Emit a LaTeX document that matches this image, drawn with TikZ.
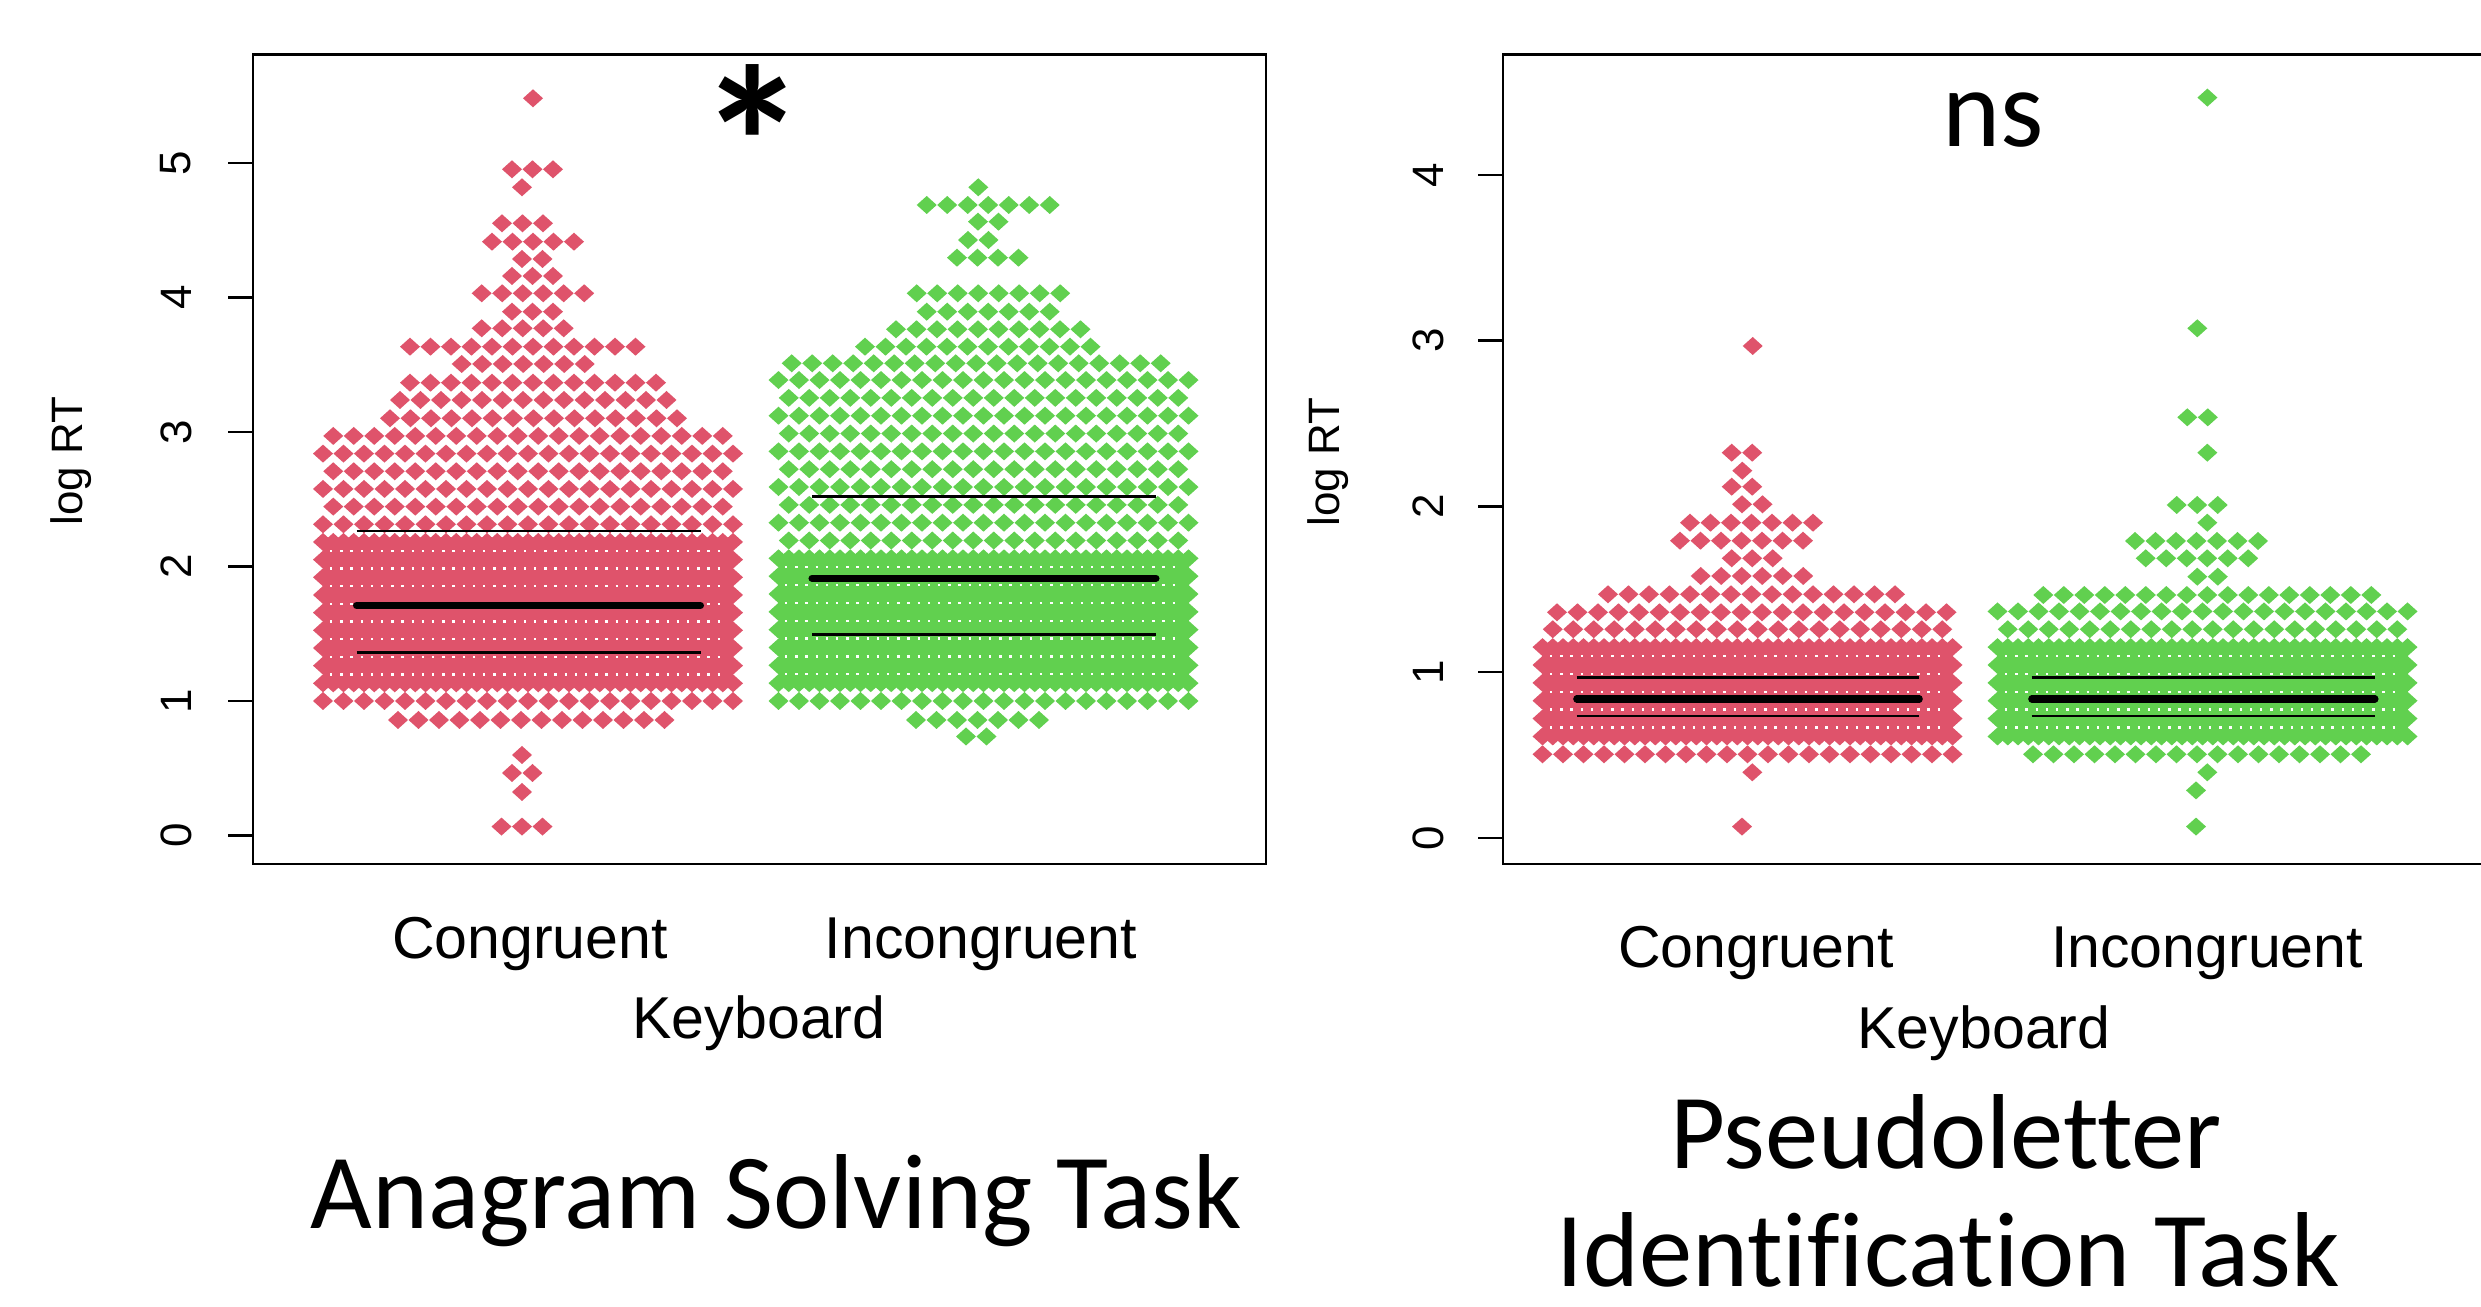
\documentclass[tikz,border=0pt]{standalone}
\usepackage{fontspec}
\setmainfont{Carlito}[Ligatures=NoCommon]
\newfontfamily\rfont{Liberation Sans}
\usepackage{xcolor}
\usepackage{tikz}
\definecolor{rcol}{HTML}{DF536B}
\definecolor{gcol}{HTML}{61D04F}
\newcommand{\plotpt}[2]{\fill (#1,#2) +(-10,0) -- +(0,-9) -- +(10,0) -- +(0,9) -- cycle;}
\newcommand{\ptrow}[3]{\foreach \i in {1,...,#3}{\pgfmathsetmacro\xx{#1+20.5*(\i-1)}\plotpt{\xx}{#2}}}
\newcommand{\solidrow}[2]{\foreach \i in {0,...,40}{\pgfmathsetmacro\xx{#1-205+10.25*\i}\plotpt{\xx}{#2}}}
\newcommand{\hexrow}[3]{\ifodd#3\relax\ptrow{#1-194.75}{#2}{20}\else\ptrow{#1-205}{#2}{21}\fi}

\begin{document}
\begin{tikzpicture}[x=0.01cm, y=-0.01cm,
                    frame/.style = {line width=0.7pt},
                    quart/.style = {line width=0.75pt},
                    med/.style = {line width=2pt, line cap=round},
                    dots/.style = {white, line width=0.7pt, dash pattern=on 0.7pt off 2.2pt},
                    ticklab/.style = {font=\rfont\fontsize{12.5}{15}\selectfont, rotate=90, inner sep=0pt},
                    axlab/.style = {font=\rfont\fontsize{16.8}{20}\selectfont, anchor=base, inner sep=0pt},
                    big/.style = {font=\fontsize{30.3}{37}\selectfont, anchor=base, inner sep=0pt},
                   ]
    \useasboundingbox (0,0) rectangle (2481,1307);
    \fill[white] (0,0) rectangle (2481,1307);

    % anagram panel
    \begin{scope}[color=rcol]
        \foreach \y/\xa/\n in {98.3/533/1, 169.3/512/3, 187.3/522/1, 223.3/502/3, 241.7/492/5, 259/522/2, 276/512/3,
                               293.3/481.7/6, 311.7/512/3, 328.3/481.7/5, 346.7/410/12, 364/461.7/7, 382.7/410/13,
                               400/400/14, 418.3/390/15, 720/398/14, 755/522/1, 773/512/2, 792/522/1, 826.6/501.5/3}
            {\ptrow{\xa}{\y}{\n}}
        \foreach \k in {0,10,11,...,15}{\pgfmathsetmacro\yy{701-17.67*\k}\hexrow{528}{\yy}{\k}}
        \fill (323,542) rectangle (733,683.3);
        \foreach \k in {1,...,9}{\pgfmathsetmacro\yy{701-17.67*\k}\solidrow{528}{\yy}}
        \foreach \k in {1,...,8}{\pgfmathsetmacro\yy{701-17.67*(\k+0.5)}\draw[dots] (330,\yy) -- (726,\yy);}
    \end{scope}
    \begin{scope}[color=gcol]
        \foreach \y/\xa/\n in {187.3/978.3/1, 205/926.7/7, 221.7/978/2, 240/968/2, 257.7/957/4, 293.3/916.7/8,
                               311.7/926.7/7, 329.3/896/10, 346.7/865/12, 363.3/791.7/19, 720/916/7, 736.5/966/2}
            {\ptrow{\xa}{\y}{\n}}
        \foreach \k in {0,9,10,...,18}{\pgfmathsetmacro\yy{701-17.83*\k}\hexrow{983.5}{\yy}{\k}}
        \fill (778.5,558.4) rectangle (1188.5,683.2);
        \foreach \k in {1,...,8}{\pgfmathsetmacro\yy{701-17.83*\k}\solidrow{983.5}{\yy}}
        \foreach \k in {1,...,7}{\pgfmathsetmacro\yy{701-17.83*(\k+0.5)}\draw[dots] (785,\yy) -- (1182,\yy);}
    \end{scope}
    \draw[quart] (356.5,531) -- (700.5,531);
    \draw[med] (356.5,605.6) -- (700.5,605.6);
    \draw[quart] (356.5,652.6) -- (700.5,652.6);
    \draw[quart] (812,496.7) -- (1156,496.7);
    \draw[med] (812,578.3) -- (1156,578.3);
    \draw[quart] (812,634.3) -- (1156,634.3);

    \draw[frame] (253,54.5) rectangle (1266,864);
    \foreach \v in {0,...,5}{
        \draw[frame] (228,{835.7-134.5*\v}) -- (253,{835.7-134.5*\v});
        \node[ticklab] (lt\v) at (176,{835.7-134.5*\v}) {\v};
    }
    \node[ticklab] (lylab) at (71.5,461) {log RT};
    \node[axlab] (lcong) at (530,959) {Congruent};
    \node[axlab] (linc) at (981,959) {Incongruent};
    \node[axlab] (lkey) at (759,1039) {Keyboard};
    \node[font=\bfseries\fontsize{62}{66}\selectfont, anchor=base, inner sep=0pt] (star) at (753,221) {*};
    \node[big] (anag) at (776,1229) {Anagram Solving Task};

    % pseudoletter panel
    \begin{scope}[color=rcol]
        \foreach \y/\xa/\n in {346/1752.7/1, 452.7/1731.7/2, 470.7/1742.3/1, 486.7/1731.7/2, 504.3/1742/2, 522.7/1690/7,
                               540.7/1680/7, 558.3/1731.7/3, 576/1700.7/6, 594.3/1608/15, 612.3/1557/20,
                               772.3/1752.3/1, 826.6/1742/1}
            {\ptrow{\xa}{\y}{\n}}
        \foreach \k in {0,7}{\pgfmathsetmacro\yy{754.3-17.86*\k}\hexrow{1747.5}{\yy}{\k}}
        \fill (1542.5,647.1) rectangle (1952.5,736.4);
        \foreach \k in {1,...,6}{\pgfmathsetmacro\yy{754.3-17.86*\k}\solidrow{1747.5}{\yy}}
        \foreach \k in {1,...,5}{\pgfmathsetmacro\yy{754.3-17.86*(\k+0.5)}\draw[dots] (1550,\yy) -- (1945,\yy);}
    \end{scope}
    \begin{scope}[color=gcol]
        \foreach \y/\xa/\n in {97.6/2207.4/1, 328.3/2197.3/1, 417.3/2187.3/2, 452.7/2207.3/1, 505/2176.7/3, 522.7/2207.3/1,
                               541/2135/7, 558.3/2145.7/6, 576.7/2197.3/2, 595/2043.3/17, 754.3/2033/17,
                               772.3/2207.3/1, 790.4/2196/1, 826.6/2196/1}
            {\ptrow{\xa}{\y}{\n}}
        \foreach \k in {7,8}{\pgfmathsetmacro\yy{754.3-17.86*\k}\hexrow{2202.5}{\yy}{\k}}
        \fill (1997.5,647.1) rectangle (2407.5,736.4);
        \foreach \k in {1,...,6}{\pgfmathsetmacro\yy{754.3-17.86*\k}\solidrow{2202.5}{\yy}}
        \foreach \k in {1,...,5}{\pgfmathsetmacro\yy{754.3-17.86*(\k+0.5)}\draw[dots] (2005,\yy) -- (2400,\yy);}
    \end{scope}
    \draw[quart] (1576.7,677.3) -- (1919.3,677.3);
    \draw[med] (1576.7,699) -- (1919.3,699);
    \draw[quart] (1576.7,716) -- (1919.3,716);
    \draw[quart] (2031.7,677.3) -- (2375,677.3);
    \draw[med] (2031.7,699) -- (2375,699);
    \draw[quart] (2031.7,716) -- (2375,716);

    \draw[frame] (2500,54.5) -- (1503,54.5) -- (1503,864) -- (2500,864);
    \foreach \v in {0,...,4}{
        \draw[frame] (1478,{838-165.8*\v}) -- (1503,{838-165.8*\v});
        \node[ticklab] (rt\v) at (1428,{838-165.8*\v}) {\v};
    }
    \node[ticklab] (rylab) at (1328.6,462) {log RT};
    \node[axlab] (rcong) at (1756,968) {Congruent};
    \node[axlab] (rinc) at (2207,968) {Incongruent};
    \node[axlab] (rkey) at (1984,1049) {Keyboard};
    \node[font=\fontsize{31.5}{36}\selectfont, anchor=base, inner sep=0pt] (ns) at (1993,147) {ns};
    \node[big] (pseudo) at (1946,1169) {Pseudoletter};
    \node[big] (ident) at (1948,1287) {Identification Task};
\end{tikzpicture}
\end{document}
